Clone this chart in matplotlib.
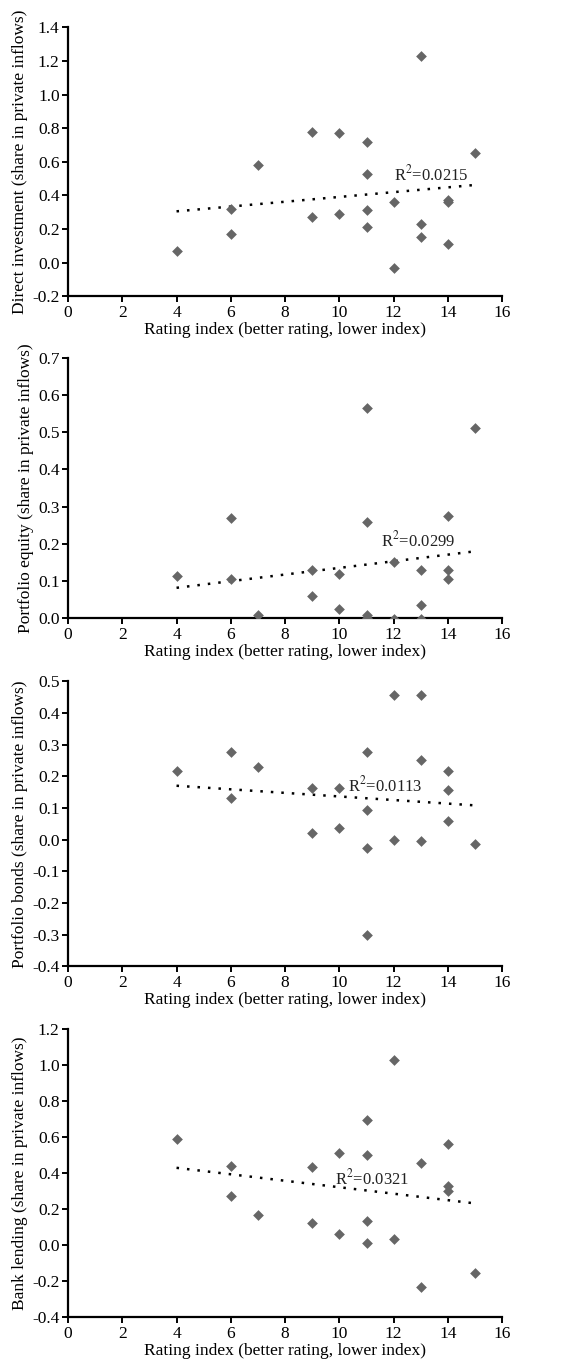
#! /usr/bin/env python3

import matplotlib
matplotlib.use("Agg")
import matplotlib.pyplot as plt
from matplotlib.ticker import FormatStrFormatter, MultipleLocator

plt.rcParams["font.family"] = ["Liberation Serif", "DejaVu Serif"]
plt.rcParams["mathtext.fontset"] = "stix"
plt.rcParams["axes.unicode_minus"] = False

# rating index of each country (same for all panels, except bank lending)
rating = [4, 6, 6, 7, 9, 9, 10, 10, 11, 11, 11, 11, 12, 12, 13, 13, 13, 14, 14, 14, 15]
rating_bank = [4, 6, 6, 7, 9, 9, 10, 10, 11, 11, 11, 11, 12, 12, 13, 13, 14, 14, 14, 15]

direct = [0.07, 0.17, 0.32, 0.58, 0.78, 0.27, 0.77, 0.29, 0.72, 0.53, 0.31, 0.21,
          0.36, -0.03, 1.23, 0.23, 0.15, 0.37, 0.36, 0.11, 0.65]
equity = [0.115, 0.27, 0.105, 0.01, 0.13, 0.06, 0.12, 0.025, 0.565, 0.26, 0.008, 0.002,
          0.152, -0.003, 0.13, 0.035, -0.003, 0.275, 0.13, 0.105, 0.51]
bonds = [0.215, 0.275, 0.13, 0.228, 0.163, 0.022, 0.163, 0.038, 0.278, 0.093, -0.025, -0.30,
         0.455, -0.002, 0.455, 0.25, -0.005, 0.218, 0.155, 0.058, -0.015]
bank = [0.59, 0.44, 0.275, 0.17, 0.435, 0.125, 0.515, 0.065, 0.695, 0.50, 0.135, 0.01,
        1.03, 0.035, 0.455, -0.23, 0.565, 0.33, 0.30, -0.155]

# linear trend lines: (x0, y0, x1, y1)
trend_direct = (4, 0.305, 15, 0.462)
trend_equity = (4, 0.082, 15, 0.180)
trend_bonds = (4, 0.170, 15, 0.108)
trend_bank = (4, 0.430, 14.85, 0.235)

r2_labels = ["0.0215", "0.0299", "0.0113", "0.0321"]
r2_pos = [(13.4, 0.525), (12.9, 0.208), (11.7, 0.17), (11.2, 0.37)]

ylabels = ["Direct investment (share in private inflows)",
           "Portfolio equity (share in private inflows)",
           "Portfolio bonds (share in private inflows)",
           "Bank lending (share in private inflows)"]
ylims = [(-0.2, 1.4), (0.0, 0.7), (-0.4, 0.5), (-0.4, 1.2)]
ysteps = [0.2, 0.1, 0.1, 0.2]
xlabel = "Rating index (better rating, lower index)"

panels = [(rating, direct, trend_direct),
          (rating, equity, trend_equity),
          (rating, bonds, trend_bonds),
          (rating_bank, bank, trend_bank)]

# axes rectangles in figure coords: left, bottom, width, height
boxes = [(0.116, 0.783, 0.741, 0.197),
         (0.116, 0.547, 0.741, 0.191),
         (0.116, 0.292, 0.741, 0.209),
         (0.116, 0.035, 0.741, 0.211)]

fig = plt.figure(figsize=(5.86, 13.65), dpi=100)

for i, (xs, ys, tr) in enumerate(panels):
    ax = fig.add_axes(boxes[i])
    ax.scatter(xs, ys, marker="D", s=30, color="#666666", zorder=3, linewidths=0)
    ax.plot([tr[0], tr[2]], [tr[1], tr[3]], color="black", lw=1.8,
            linestyle=(0, (1, 3.2)), zorder=2)
    ax.text(r2_pos[i][0], r2_pos[i][1], "R$^{2}$=" + r2_labels[i],
            ha="center", va="center", fontsize=12, color="#222222")

    ax.set_xlim(0, 16)
    ax.set_ylim(*ylims[i])
    ax.xaxis.set_major_locator(MultipleLocator(2))
    ax.yaxis.set_major_locator(MultipleLocator(ysteps[i]))
    ax.yaxis.set_major_formatter(FormatStrFormatter("%.1f"))
    for side in ("top", "right"):
        ax.spines[side].set_visible(False)
    for side in ("left", "bottom"):
        ax.spines[side].set_linewidth(1.6)
    ax.tick_params(direction="out", width=1.4, length=4, labelsize=12.5, pad=2)
    ax.set_ylabel(ylabels[i], fontsize=12.5, labelpad=3)
    ax.set_xlabel(xlabel, fontsize=12.5, labelpad=1)

fig.savefig("out.png", dpi=100)
